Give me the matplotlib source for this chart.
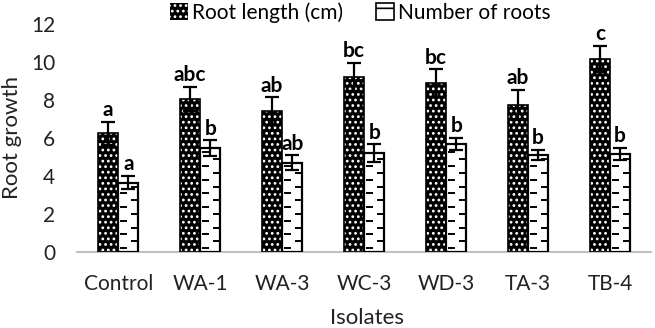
import numpy as np
import matplotlib.pyplot as plt
from matplotlib.patches import Patch

plt.rcParams['font.family'] = ['Lato', 'DejaVu Sans']
plt.rcParams['hatch.linewidth'] = 1.2

isolates = ['Control', 'WA-1', 'WA-3', 'WC-3', 'WD-3', 'TA-3', 'TB-4']
root_length = [6.25, 8.05, 7.42, 9.2, 8.9, 7.74, 10.16]
root_length_err = [0.6, 0.63, 0.72, 0.75, 0.72, 0.8, 0.7]
root_number = [3.65, 5.45, 4.7, 5.2, 5.68, 5.1, 5.16]
root_number_err = [0.35, 0.42, 0.4, 0.47, 0.32, 0.27, 0.32]
length_letters = ['a', 'abc', 'ab', 'bc', 'bc', 'ab', 'c']
number_letters = ['a', 'b', 'ab', 'b', 'b', 'b', 'b']

fig = plt.figure(figsize=(6.55, 3.28), dpi=100)
ax = fig.add_axes([0.118, 0.232, 0.876, 0.695])

x = np.arange(len(isolates))
w = 0.245

# root length: black with white dots
ax.bar(x - w / 2, root_length, w, color='black', edgecolor='white', hatch='...', linewidth=0, zorder=2)
ax.bar(x - w / 2, root_length, w, fill=False, edgecolor='black', linewidth=1.2, zorder=3)
# number of roots: white with short staggered dashes
ax.bar(x + w / 2, root_number, w, color='white', linewidth=0, zorder=2)
ax.bar(x + w / 2, root_number, w, fill=False, edgecolor='black', linewidth=1.6, zorder=3)
for i in range(len(isolates)):
    left = x[i]
    k = 0
    yy = 0.2
    while yy < root_number[i] - 0.15:
        if k % 2 == 0:
            ax.hlines(yy, left + 0.08 * w, left + 0.42 * w, color='black', lw=1.4, zorder=2.5)
        else:
            ax.hlines(yy, left + 0.62 * w, left + w, color='black', lw=1.4, zorder=2.5)
        yy += 0.36
        k += 1

ax.errorbar(x - w / 2, root_length, yerr=root_length_err, fmt='none', ecolor='black',
            elinewidth=1.6, capsize=5, capthick=1.6, zorder=4)
ax.errorbar(x + w / 2, root_number, yerr=root_number_err, fmt='none', ecolor='black',
            elinewidth=1.6, capsize=5, capthick=1.6, zorder=4)

for i in range(len(isolates)):
    ax.text(x[i] - w / 2, root_length[i] + root_length_err[i] + 0.08, length_letters[i],
            ha='center', va='bottom', fontsize=15, fontweight='bold')
    ax.text(x[i] + w / 2, root_number[i] + root_number_err[i] + 0.08, number_letters[i],
            ha='center', va='bottom', fontsize=15, fontweight='bold')

ax.set_xlim(-0.5, len(isolates) - 0.5)
ax.set_ylim(0, 12)
ax.set_yticks(range(0, 13, 2))
ax.set_xticks(x)
ax.set_xticklabels(isolates)
ax.tick_params(axis='both', length=0, labelsize=15, colors='#222222')
ax.tick_params(axis='x', pad=16)
ax.tick_params(axis='y', pad=16)
for side in ['top', 'right', 'left']:
    ax.spines[side].set_visible(False)
ax.spines['bottom'].set_color('#c0c0c0')
ax.spines['bottom'].set_linewidth(1.5)

ax.set_ylabel('Root growth', fontsize=16, labelpad=6, color='#222222')
ax.set_xlabel('Isolates', fontsize=16, color='#222222', va='center')
ax.xaxis.set_label_coords(0.505, -0.29)

handles = [
    Patch(facecolor='black', edgecolor='white', hatch='...', linewidth=0),
    Patch(facecolor='white', edgecolor='black', hatch='-', linewidth=1.2),
]
fig.legend(handles, ['Root length (cm)', 'Number of roots'], loc='upper center',
           bbox_to_anchor=(0.55, 1.05), ncol=2, frameon=False, fontsize=15,
           handlelength=0.85, handleheight=0.85, handletextpad=0.2, columnspacing=1.6)

fig.savefig('out.png', dpi=100, facecolor='white')
